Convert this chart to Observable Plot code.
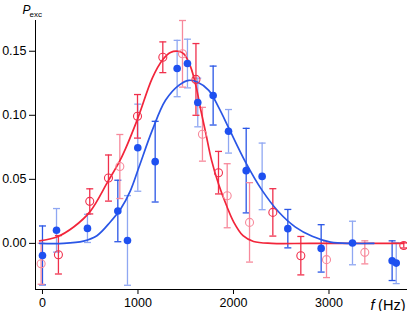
<!DOCTYPE html>
<html><head><meta charset="utf-8">
<script src="https://cdn.jsdelivr.net/npm/d3@7"></script>
<script src="https://cdn.jsdelivr.net/npm/@observablehq/plot@0.6"></script>
<style>
html,body{margin:0;padding:0;background:#fff}
svg{display:block}
</style>
</head><body><div id="chart"></div>
<script>
// ---- data ----
const blueF   = [0, 147, 471, 789, 890, 998, 1180, 1410, 1518, 1626, 1787, 1948, 2133, 2300, 2569, 2918, 3246, 3661, 3704];
const blueP   = [-0.0094, 0.0102, 0.0117, 0.0253, 0.0023, 0.0747, 0.0638, 0.1365, 0.1404, 0.110, 0.1154, 0.0875, 0.0568, 0.0523, 0.0115, -0.0039, 0.0003, -0.0135, -0.0154];
const blueErr = [0.023, 0.017, 0.011, 0.024, 0.035, 0.034, 0.0315, 0.022, 0.019, 0.019, 0.023, 0.017, 0.033, 0.026, 0.015, 0.0185, 0.017, 0.0155, 0.016];
const blueRun = ["A","B","B","A","B","B","A","B","B","B","A","B","A","B","A","A","B","A","B"];

const redF    = [-14, 167, 495, 691, 810, 995, 1260, 1466, 1607, 1675, 1843, 1934, 2168, 2412, 2705, 2974, 3375, 3783];
const redP    = [-0.0159, -0.0089, 0.0328, 0.051, 0.060, 0.0992, 0.1453, 0.148, 0.128, 0.0852, 0.0552, 0.0372, 0.0164, 0.0242, -0.0096, -0.0127, -0.007, -0.0016];
const redErr  = [0.016, 0.015, 0.0098, 0.018, 0.025, 0.017, 0.012, 0.026, 0.028, 0.021, 0.0166, 0.025, 0.031, 0.0185, 0.015, 0.014, 0.009, 0.002];
const redRun  = ["B","A","A","A","B","A","A","B","A","B","A","B","B","A","A","B","B","A"];

// fitted curves
const redFitF  = [-30, 150, 330, 500, 690, 800, 870, 1000, 1150, 1260, 1340, 1420, 1480, 1550, 1610, 1655, 1710, 1770, 1845, 1930, 2000, 2100, 2210, 2400, 2800, 3780];
const redFitP  = [0.002, 0.005, 0.013, 0.025, 0.049, 0.063, 0.074, 0.098, 0.129, 0.1435, 0.149, 0.150, 0.148, 0.138, 0.122, 0.105, 0.086, 0.065, 0.046, 0.029, 0.017, 0.006, 0.0015, 0.0, 0.0, 0.0];
const blueFitF = [-30, 220, 430, 570, 710, 820, 920, 1008, 1148, 1288, 1427, 1532, 1620, 1741, 1846, 1951, 2126, 2300, 2474, 2649, 2824, 3016, 3243, 3470];
const blueFitP = [0.0, 0.0, 0.0018, 0.006, 0.0167, 0.027, 0.041, 0.059, 0.088, 0.1117, 0.1234, 0.1273, 0.126, 0.1195, 0.106, 0.090, 0.0635, 0.0414, 0.0245, 0.0127, 0.0055, 0.001, 0.0, 0.0];

const xTicks = [0, 1000, 2000, 3000];
const yTicks = [0, 0.05, 0.10, 0.15];
const xDomain = [-73, 3822];
const yDomain = [-0.036, 0.174];

// ---- build tables ----
const blue = blueF.map((f, i) => ({f, p: blueP[i], lo: blueP[i] - blueErr[i], hi: blueP[i] + blueErr[i], run: "blue" + blueRun[i]}));
const red  = redF.map((f, i) => ({f, p: redP[i], lo: redP[i] - redErr[i], hi: redP[i] + redErr[i], run: "red" + redRun[i]}));
const redFit  = redFitF.map((f, i) => ({f, p: redFitP[i]}));
const blueFit = blueFitF.map((f, i) => ({f, p: blueFitP[i]}));

const cap = {draw(ctx, size) { const r = Math.sqrt(size / Math.PI); ctx.moveTo(-r, 0); ctx.lineTo(r, 0); }};

const font = "'Liberation Sans', Arial, Helvetica, sans-serif";

const chart = Plot.plot({
  width: 407, height: 311,
  marginLeft: 35, marginTop: 20, marginBottom: 22, marginRight: 0,
  style: {fontFamily: font, fontSize: "12.5px", color: "#000", background: "#fff"},
  x: {domain: xDomain},
  y: {domain: yDomain},
  color: {domain: ["blueA", "blueB", "redA", "redB"], range: ["#2a56e6", "#8fa7f2", "#f0304c", "#f7899b"]},
  marks: [
    Plot.ruleX([xDomain[0]], {y1: yDomain[0], y2: yDomain[1], stroke: "#000", strokeWidth: 1}),
    Plot.ruleY([yDomain[0]], {stroke: "#000", strokeWidth: 1}),
    Plot.axisX({ticks: xTicks, tickSize: 5, tickPadding: 4, label: null, tickFormat: d => String(d), fontSize: 12.5}),
    Plot.axisY({ticks: yTicks, tickSize: 6, tickPadding: 3, label: null, tickFormat: ".2f", fontSize: 12.5}),
    // error bars
    Plot.ruleX(blue, {x: "f", y1: "lo", y2: "hi", stroke: "run", strokeWidth: 1.3}),
    Plot.dot(blue, {x: "f", y: "lo", symbol: cap, r: 3.5, stroke: "run", strokeWidth: 1.3}),
    Plot.dot(blue, {x: "f", y: "hi", symbol: cap, r: 3.5, stroke: "run", strokeWidth: 1.3}),
    Plot.ruleX(red, {x: "f", y1: "lo", y2: "hi", stroke: "run", strokeWidth: 1.3}),
    Plot.dot(red, {x: "f", y: "lo", symbol: cap, r: 3.5, stroke: "run", strokeWidth: 1.3}),
    Plot.dot(red, {x: "f", y: "hi", symbol: cap, r: 3.5, stroke: "run", strokeWidth: 1.3}),
    // fits
    Plot.line(redFit, {x: "f", y: "p", stroke: "#f2253a", strokeWidth: 1.7, curve: "catmull-rom"}),
    Plot.line(blueFit, {x: "f", y: "p", stroke: "#2a56e6", strokeWidth: 1.7, curve: "catmull-rom"}),
    // points
    Plot.dot(blue, {x: "f", y: "p", r: 3.8, fill: "#1e50f0", stroke: "none"}),
    Plot.dot(red, {x: "f", y: "p", r: 4, fill: "none", stroke: "run", strokeWidth: 1.1}),
    // labels
    Plot.text(["P"], {frameAnchor: "top-left", dx: -13, dy: -7, textAnchor: "start", lineAnchor: "bottom", fontStyle: "italic", fontSize: 12}),
    Plot.text(["exc"], {frameAnchor: "top-left", dx: -6, dy: -4, textAnchor: "start", lineAnchor: "bottom", fontSize: 8}),
    Plot.text(["(Hz)"], {frameAnchor: "bottom-right", dx: -2, dy: 20, textAnchor: "end", lineAnchor: "bottom", fontSize: 14.5}),
    Plot.text(["f"], {frameAnchor: "bottom-right", dx: -33, dy: 20, textAnchor: "end", lineAnchor: "bottom", fontStyle: "italic", fontSize: 14.5})
  ]
});
document.getElementById("chart").appendChild(chart);
</script>
</body></html>
